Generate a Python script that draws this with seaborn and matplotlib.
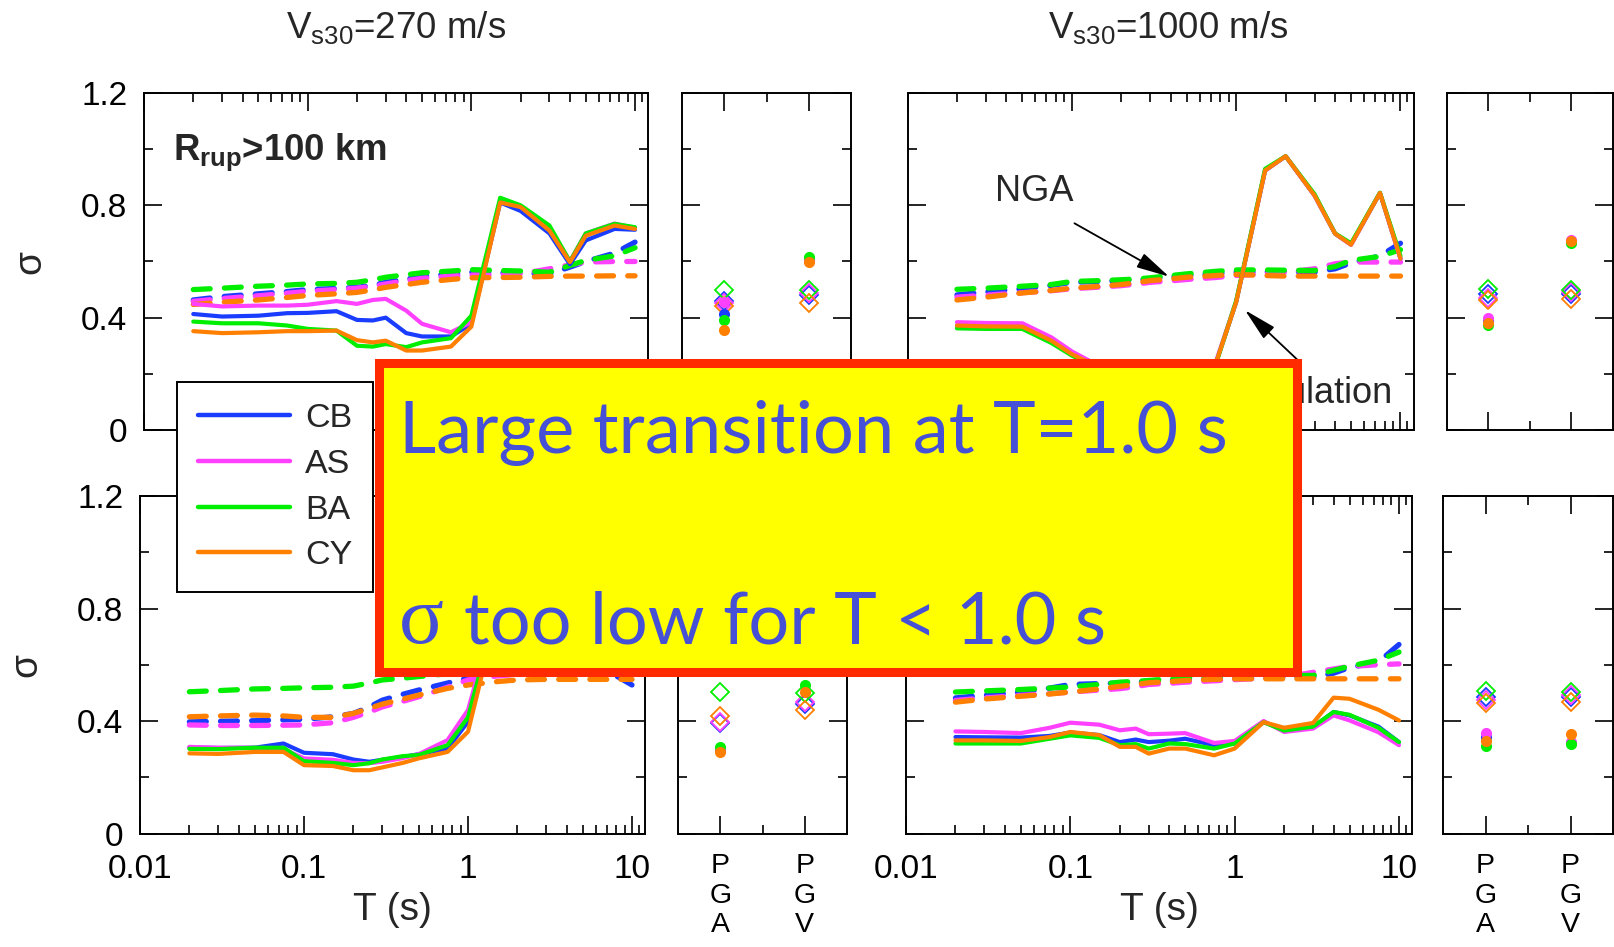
import matplotlib
matplotlib.use("Agg")
import matplotlib.pyplot as plt
import seaborn as sns
from matplotlib.lines import Line2D
from matplotlib.patches import Rectangle
from matplotlib.ticker import FixedLocator, NullFormatter, FixedFormatter

# ---------------- data ----------------
models = ["CB", "AS", "BA", "CY"]
model_colors = ["#1a3cff", "#ff40ff", "#00ee00", "#ff7f00"]

periods = [0.02, 0.03, 0.05, 0.075, 0.1, 0.15, 0.2, 0.25, 0.3, 0.4, 0.5,
           0.75, 1, 1.5, 2, 3, 4, 5, 7.5, 10]
period_ticks = [0.01, 0.1, 1, 10]
period_tick_labels = ["0.01", "0.1", "1", "10"]
sigma_ticks = [0, 0.4, 0.8, 1.2]
sigma_tick_labels = ["0", "0.4", "0.8", "1.2"]
pg_positions = [1, 3]
pg_labels = ["P\nG\nA", "P\nG\nV"]

# Vs30 = 270 m/s, Rrup > 100 km  (solid = simulation, dashed = NGA)
sim_270_top = {
    "CB": [0.413, 0.404, 0.407, 0.416, 0.417, 0.423, 0.392, 0.390, 0.400, 0.345, 0.333, 0.333, 0.378, 0.810, 0.780, 0.700, 0.590, 0.675, 0.716, 0.713],
    "AS": [0.449, 0.440, 0.443, 0.443, 0.446, 0.459, 0.449, 0.463, 0.467, 0.425, 0.378, 0.348, 0.384, 0.815, 0.795, 0.720, 0.600, 0.700, 0.735, 0.720],
    "BA": [0.386, 0.380, 0.380, 0.372, 0.360, 0.354, 0.300, 0.297, 0.306, 0.295, 0.312, 0.327, 0.407, 0.827, 0.800, 0.728, 0.600, 0.700, 0.734, 0.722],
    "CY": [0.352, 0.345, 0.348, 0.352, 0.352, 0.354, 0.320, 0.312, 0.318, 0.283, 0.283, 0.297, 0.368, 0.810, 0.794, 0.710, 0.598, 0.692, 0.728, 0.716],
}
nga_270_top = {
    "CB": [0.463, 0.475, 0.485, 0.493, 0.500, 0.504, 0.508, 0.515, 0.526, 0.537, 0.547, 0.556, 0.562, 0.560, 0.558, 0.556, 0.580, 0.600, 0.630, 0.669],
    "AS": [0.458, 0.468, 0.478, 0.487, 0.494, 0.500, 0.505, 0.512, 0.520, 0.532, 0.540, 0.548, 0.552, 0.553, 0.556, 0.574, 0.588, 0.598, 0.600, 0.600],
    "BA": [0.500, 0.505, 0.512, 0.516, 0.520, 0.522, 0.526, 0.535, 0.544, 0.553, 0.560, 0.566, 0.571, 0.568, 0.566, 0.562, 0.586, 0.604, 0.620, 0.649],
    "CY": [0.447, 0.455, 0.463, 0.472, 0.479, 0.485, 0.490, 0.499, 0.508, 0.518, 0.526, 0.536, 0.542, 0.543, 0.544, 0.547, 0.548, 0.548, 0.549, 0.549],
}
# PGA / PGV values, order CB, AS, BA, CY
pga_sim_270_top = [0.413, 0.455, 0.392, 0.356]
pgv_sim_270_top = [0.610, 0.605, 0.615, 0.598]
pga_nga_270_top = [0.459, 0.452, 0.499, 0.440]
pgv_nga_270_top = [0.479, 0.487, 0.500, 0.451]

# Vs30 = 1000 m/s, Rrup > 100 km
sim_1000_top = {
    "CB": [0.372, 0.369, 0.368, 0.318, 0.270, 0.220, 0.200, 0.190, 0.180, 0.180, 0.190, 0.235, 0.455, 0.924, 0.975, 0.835, 0.699, 0.660, 0.844, 0.610],
    "AS": [0.384, 0.381, 0.380, 0.330, 0.280, 0.225, 0.205, 0.195, 0.185, 0.185, 0.195, 0.240, 0.458, 0.924, 0.975, 0.835, 0.699, 0.660, 0.844, 0.610],
    "BA": [0.362, 0.360, 0.360, 0.310, 0.265, 0.215, 0.198, 0.188, 0.178, 0.178, 0.188, 0.232, 0.460, 0.930, 0.975, 0.840, 0.700, 0.665, 0.845, 0.620],
    "CY": [0.372, 0.369, 0.368, 0.318, 0.270, 0.220, 0.200, 0.190, 0.180, 0.180, 0.190, 0.235, 0.455, 0.924, 0.975, 0.835, 0.699, 0.660, 0.844, 0.610],
}
nga_1000_top = {
    "CB": [0.481, 0.492, 0.503, 0.515, 0.526, 0.529, 0.532, 0.535, 0.538, 0.545, 0.550, 0.557, 0.562, 0.563, 0.563, 0.563, 0.574, 0.595, 0.620, 0.665],
    "AS": [0.473, 0.480, 0.489, 0.496, 0.503, 0.509, 0.514, 0.520, 0.526, 0.531, 0.536, 0.543, 0.550, 0.556, 0.562, 0.574, 0.592, 0.598, 0.598, 0.598],
    "BA": [0.501, 0.505, 0.512, 0.518, 0.529, 0.532, 0.535, 0.538, 0.542, 0.550, 0.556, 0.565, 0.570, 0.570, 0.569, 0.568, 0.582, 0.604, 0.618, 0.642],
    "CY": [0.463, 0.473, 0.488, 0.497, 0.505, 0.512, 0.518, 0.525, 0.532, 0.538, 0.544, 0.550, 0.554, 0.550, 0.548, 0.548, 0.548, 0.548, 0.548, 0.548],
}
pga_sim_1000_top = [0.390, 0.400, 0.374, 0.382]
pgv_sim_1000_top = [0.670, 0.675, 0.667, 0.673]
pga_nga_1000_top = [0.483, 0.471, 0.503, 0.463]
pgv_nga_1000_top = [0.483, 0.492, 0.500, 0.467]

# Vs30 = 270 m/s, lower row
sim_270_bot = {
    "CB": [0.306, 0.304, 0.305, 0.320, 0.287, 0.282, 0.263, 0.255, 0.262, 0.272, 0.282, 0.302, 0.397, 0.790, 0.770, 0.700, 0.610, 0.670, 0.700, 0.690],
    "AS": [0.308, 0.305, 0.305, 0.300, 0.267, 0.262, 0.251, 0.250, 0.255, 0.268, 0.282, 0.332, 0.439, 0.810, 0.790, 0.720, 0.620, 0.680, 0.720, 0.700],
    "BA": [0.301, 0.300, 0.305, 0.305, 0.257, 0.251, 0.243, 0.250, 0.263, 0.275, 0.279, 0.314, 0.413, 0.800, 0.780, 0.720, 0.620, 0.680, 0.720, 0.700],
    "CY": [0.285, 0.283, 0.290, 0.290, 0.243, 0.240, 0.225, 0.225, 0.235, 0.251, 0.267, 0.290, 0.362, 0.780, 0.770, 0.700, 0.600, 0.670, 0.700, 0.690],
}
nga_270_bot = {
    "CB": [0.397, 0.399, 0.401, 0.404, 0.406, 0.415, 0.427, 0.450, 0.474, 0.495, 0.510, 0.535, 0.553, 0.575, 0.580, 0.585, 0.580, 0.578, 0.570, 0.528],
    "AS": [0.386, 0.384, 0.384, 0.385, 0.386, 0.394, 0.413, 0.432, 0.450, 0.470, 0.486, 0.520, 0.546, 0.560, 0.566, 0.580, 0.585, 0.590, 0.595, 0.600],
    "BA": [0.504, 0.508, 0.514, 0.516, 0.518, 0.520, 0.524, 0.535, 0.546, 0.552, 0.558, 0.568, 0.575, 0.590, 0.600, 0.610, 0.620, 0.630, 0.640, 0.650],
    "CY": [0.415, 0.418, 0.421, 0.418, 0.413, 0.413, 0.427, 0.445, 0.460, 0.478, 0.492, 0.516, 0.528, 0.540, 0.546, 0.548, 0.548, 0.548, 0.548, 0.548],
}
pga_sim_270_bot = [0.300, 0.305, 0.308, 0.290]
pgv_sim_270_bot = [0.600, 0.610, 0.527, 0.503]
pga_nga_270_bot = [0.393, 0.396, 0.503, 0.417]
pgv_nga_270_bot = [0.459, 0.467, 0.499, 0.438]

# Vs30 = 1000 m/s, lower row
sim_1000_bot = {
    "CB": [0.343, 0.342, 0.341, 0.347, 0.359, 0.350, 0.325, 0.334, 0.325, 0.330, 0.337, 0.314, 0.320, 0.396, 0.369, 0.378, 0.432, 0.420, 0.380, 0.325],
    "AS": [0.363, 0.361, 0.357, 0.376, 0.394, 0.387, 0.367, 0.373, 0.353, 0.355, 0.357, 0.322, 0.329, 0.400, 0.361, 0.373, 0.420, 0.402, 0.360, 0.314],
    "BA": [0.320, 0.320, 0.320, 0.337, 0.349, 0.340, 0.314, 0.318, 0.302, 0.320, 0.318, 0.302, 0.320, 0.396, 0.366, 0.380, 0.432, 0.422, 0.376, 0.325],
    "CY": [0.331, 0.331, 0.329, 0.343, 0.361, 0.350, 0.308, 0.308, 0.284, 0.302, 0.302, 0.278, 0.302, 0.396, 0.376, 0.393, 0.483, 0.479, 0.440, 0.402],
}
nga_1000_bot = {
    "CB": [0.482, 0.492, 0.503, 0.517, 0.530, 0.533, 0.535, 0.538, 0.541, 0.544, 0.547, 0.550, 0.552, 0.554, 0.555, 0.556, 0.570, 0.590, 0.610, 0.672],
    "AS": [0.473, 0.482, 0.491, 0.497, 0.503, 0.510, 0.515, 0.522, 0.530, 0.534, 0.538, 0.543, 0.547, 0.552, 0.556, 0.573, 0.585, 0.594, 0.600, 0.603],
    "BA": [0.503, 0.507, 0.512, 0.517, 0.521, 0.530, 0.538, 0.541, 0.544, 0.550, 0.555, 0.560, 0.562, 0.562, 0.562, 0.562, 0.580, 0.595, 0.616, 0.645],
    "CY": [0.467, 0.478, 0.488, 0.496, 0.503, 0.514, 0.523, 0.530, 0.536, 0.540, 0.544, 0.548, 0.550, 0.550, 0.550, 0.550, 0.550, 0.550, 0.550, 0.550],
}
pga_sim_1000_bot = [0.343, 0.357, 0.311, 0.329]
pgv_sim_1000_bot = [0.322, 0.325, 0.320, 0.355]
pga_nga_1000_bot = [0.485, 0.473, 0.506, 0.464]
pgv_nga_1000_bot = [0.485, 0.493, 0.503, 0.467]

# ---------------- style ----------------
sns.set_theme(style="ticks")
plt.rcParams["font.family"] = ["Liberation Sans", "DejaVu Sans"]
plt.rcParams["mathtext.fontset"] = "custom"
plt.rcParams["mathtext.rm"] = "Liberation Sans"
plt.rcParams["mathtext.it"] = "Liberation Sans:italic"
plt.rcParams["mathtext.bf"] = "Liberation Sans:bold"

W, H = 1614, 947
fig = plt.figure(figsize=(W / 100, H / 100), dpi=100)
fig.patch.set_facecolor("white")


def rect(x0, x1, y0, y1):
    return [x0 / W, 1 - y1 / H, (x1 - x0) / W, (y1 - y0) / H]


TICK_FS = 24
SOLID_LW = 3.0
DASH_LW = 3.8
DASH = (0, (3.2, 2.7))


def style_common(ax):
    ax.set_ylim(0, 1.2)
    ax.yaxis.set_major_locator(FixedLocator(sigma_ticks))
    ax.yaxis.set_minor_locator(FixedLocator([0.2, 0.6, 1.0]))
    ax.tick_params(which="both", direction="in", top=True, right=True,
                   bottom=True, left=True, width=1.2, colors="black")
    ax.tick_params(which="major", length=13)
    ax.tick_params(which="minor", length=6.5)
    ax.tick_params(axis="y", labelsize=TICK_FS, pad=12)
    for s in ax.spines.values():
        s.set_linewidth(1.4)
        s.set_color("black")
    ax.set_facecolor("white")
    ax.grid(False)


def period_panel(ax, sim, nga, show_x, show_y):
    for m, c in zip(models, model_colors):
        sns.lineplot(x=periods, y=nga[m], ax=ax, color=c, linewidth=DASH_LW,
                     linestyle=DASH, dash_capstyle="round", legend=False,
                     sort=False, estimator=None, errorbar=None)
    for m, c in zip(models, model_colors):
        sns.lineplot(x=periods, y=sim[m], ax=ax, color=c, linewidth=SOLID_LW,
                     solid_joinstyle="round", legend=False,
                     sort=False, estimator=None, errorbar=None)
    ax.set_xscale("log")
    ax.set_xlim(0.01, 12)
    style_common(ax)
    ax.xaxis.set_major_locator(FixedLocator(period_ticks))
    minors = [k * d for d in [0.01, 0.1, 1] for k in range(2, 10)] + [11]
    ax.xaxis.set_minor_locator(FixedLocator([v for v in minors if v < 12]))
    ax.xaxis.set_minor_formatter(NullFormatter())
    if show_x:
        ax.xaxis.set_major_formatter(FixedFormatter(period_tick_labels))
        ax.tick_params(axis="x", labelsize=TICK_FS, pad=15)
        ax.set_xlabel("T (s)", fontsize=28)
        ax.xaxis.set_label_coords(0.5, -0.172)
    else:
        ax.xaxis.set_major_formatter(NullFormatter())
        ax.set_xlabel("")
    if show_y:
        ax.set_yticklabels(sigma_tick_labels)
        ax.set_ylabel("σ", fontsize=28, rotation=90)
        ax.yaxis.set_label_coords(-0.19, 0.5)
    else:
        ax.set_yticklabels([])
        ax.set_ylabel("")


def pg_panel(ax, pga_sim, pgv_sim, pga_nga, pgv_nga, show_x):
    for i, c in enumerate(model_colors):
        ax.plot(pg_positions, [pga_nga[i], pgv_nga[i]], linestyle="none",
                marker="D", markersize=9.5, markerfacecolor="none",
                markeredgecolor=c, markeredgewidth=1.3)
    for i, c in enumerate(model_colors):
        ax.plot(pg_positions, [pga_sim[i], pgv_sim[i]], linestyle="none",
                marker="o", markersize=8, markerfacecolor=c,
                markeredgecolor=c, markeredgewidth=0)
    ax.set_xlim(0, 4)
    style_common(ax)
    ax.xaxis.set_major_locator(FixedLocator(pg_positions))
    ax.xaxis.set_minor_locator(FixedLocator([2]))
    ax.set_yticklabels([])
    if show_x:
        ax.set_xticklabels(pg_labels)
        ax.tick_params(axis="x", labelsize=20.5, pad=14)
        for t in ax.get_xticklabels():
            t.set_linespacing(1.18)
    else:
        ax.set_xticklabels([])


ax_tl = fig.add_axes(rect(144, 648, 93, 430))
ax_tp = fig.add_axes(rect(682, 851, 93, 430))
ax_tr = fig.add_axes(rect(907.5, 1413.5, 93, 430))
ax_trp = fig.add_axes(rect(1446.5, 1613, 93, 430))
ax_bl = fig.add_axes(rect(140, 645, 496, 833.5))
ax_bp = fig.add_axes(rect(678, 847, 496, 833.5))
ax_br = fig.add_axes(rect(906, 1412, 496, 833.5))
ax_brp = fig.add_axes(rect(1443, 1613, 496, 833.5))

period_panel(ax_tl, sim_270_top, nga_270_top, False, True)
period_panel(ax_tr, sim_1000_top, nga_1000_top, False, False)
period_panel(ax_bl, sim_270_bot, nga_270_bot, True, True)
period_panel(ax_br, sim_1000_bot, nga_1000_bot, True, False)
pg_panel(ax_tp, pga_sim_270_top, pgv_sim_270_top, pga_nga_270_top, pgv_nga_270_top, False)
pg_panel(ax_trp, pga_sim_1000_top, pgv_sim_1000_top, pga_nga_1000_top, pgv_nga_1000_top, False)
pg_panel(ax_bp, pga_sim_270_bot, pgv_sim_270_bot, pga_nga_270_bot, pgv_nga_270_bot, True)
pg_panel(ax_brp, pga_sim_1000_bot, pgv_sim_1000_bot, pga_nga_1000_bot, pgv_nga_1000_bot, True)

# titles
ax_tl.text(0.5, 1.162, r"V$_{\mathrm{s30}}$=270 m/s", transform=ax_tl.transAxes,
           ha="center", va="baseline", fontsize=26.5)
ax_tr.text(0.515, 1.162, r"V$_{\mathrm{s30}}$=1000 m/s", transform=ax_tr.transAxes,
           ha="center", va="baseline", fontsize=26.5)
ax_tl.text(0.058, 0.80, r"R$_{\mathbf{rup}}$>100 km", transform=ax_tl.transAxes,
           ha="left", va="baseline", fontsize=26.3, fontweight="bold")

# annotations in the 1000 m/s panel
ax_tr.text(0.0588, 0.8475, "NGA", ha="center", va="center", fontsize=26)
ax_tr.annotate("", xy=(0.391, 0.546), xytext=(0.1038, 0.736),
               arrowprops=dict(arrowstyle="-|>,head_length=1.7,head_width=0.4",
                               color="black", lw=1.3, shrinkA=0, shrinkB=0))
ax_tr.text(8.98, 0.096, "Simulation", ha="right", va="baseline", fontsize=26)
ax_tr.annotate("", xy=(1.13, 0.427), xytext=(2.44, 0.242),
               arrowprops=dict(arrowstyle="-|>,head_length=1.7,head_width=0.4",
                               color="black", lw=1.3, shrinkA=0, shrinkB=0))

# legend
handles = [Line2D([0], [0], color=c, lw=3.2, solid_capstyle="round") for c in model_colors]
leg = fig.legend(handles, models, loc="upper left",
                 bbox_to_anchor=(176.7 / W, 1 - 382.3 / H), borderaxespad=0,
                 fontsize=24.5, frameon=True, fancybox=False, framealpha=1,
                 edgecolor="black", handlelength=2.7, handletextpad=0.45,
                 borderpad=0.62, labelspacing=0.43)
leg.get_frame().set_linewidth(1.4)
leg.set_zorder(6)

# callout box
box = Rectangle((378.5 / W, 1 - 671.5 / H), (1297.5 - 378.5) / W, (671.5 - 363.5) / H,
                transform=fig.transFigure, facecolor="#ffff00", edgecolor="#ff2a00",
                linewidth=6.5, joinstyle="miter", zorder=10)
fig.add_artist(box)
txt_color = "#4650d7"
fig.text(399 / W, 1 - 453.3 / H, "Large transition at T=1.0 s", fontsize=52,
         family=["Lato", "DejaVu Sans"], color=txt_color, ha="left", va="baseline", zorder=11)
fig.text(399 / W, 1 - 643.3 / H, "σ", fontsize=60,
         family=["Liberation Serif", "DejaVu Serif"], color=txt_color, ha="left", va="baseline", zorder=11)
fig.text(464 / W, 1 - 643.3 / H, "too low for T < 1.0 s", fontsize=52,
         family=["Lato", "DejaVu Sans"], color=txt_color, ha="left", va="baseline", zorder=11)

fig.savefig("out.png", dpi=100, facecolor="white")
